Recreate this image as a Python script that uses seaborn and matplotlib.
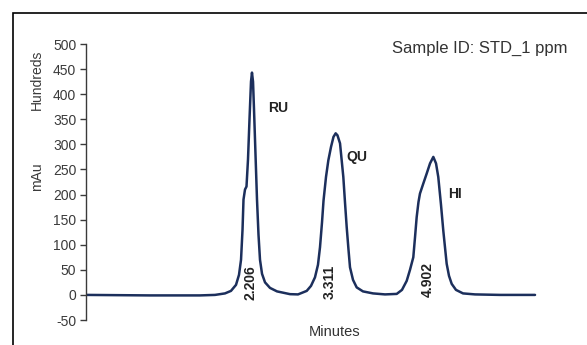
import matplotlib
matplotlib.use("Agg")
import matplotlib.pyplot as plt
import matplotlib.patches as mpatches
import seaborn as sns
import pandas as pd

# ---- data (minutes, mAu in hundreds) ----
minutes = [0.000, 0.853, 1.520, 1.720, 1.853, 1.933, 2.000, 2.040, 2.067, 2.087,
           2.100, 2.120, 2.140, 2.160, 2.180, 2.200, 2.213, 2.227, 2.240, 2.260,
           2.280, 2.300, 2.320, 2.347, 2.387, 2.453, 2.547, 2.720, 2.827, 2.943,
           3.000, 3.053, 3.093, 3.120, 3.147, 3.167, 3.200, 3.231, 3.267, 3.300,
           3.329, 3.353, 3.387, 3.431, 3.453, 3.476, 3.500, 3.520, 3.560, 3.609,
           3.693, 3.827, 3.987, 4.143, 4.213, 4.276, 4.320, 4.364, 4.387, 4.409,
           4.433, 4.453, 4.493, 4.543, 4.587, 4.631, 4.667, 4.697, 4.733, 4.764,
           4.809, 4.840, 4.876, 4.933, 5.027, 5.187, 5.520, 5.987]
signal = [0, -1, -1, 0, 3, 8, 20, 40, 70, 130,
          190, 210, 216, 270, 350, 425, 443, 425, 370, 280,
          190, 120, 70, 42, 25, 14, 7, 1.5, 1, 8,
          18, 35, 60, 95, 145, 188, 235, 268, 295, 315,
          322, 318, 302, 235, 185, 135, 90, 55, 30, 15,
          7, 3, 1, 2, 10, 28, 50, 75, 115, 155,
          185, 202, 220, 242, 262, 275, 262, 235, 180, 128,
          62, 38, 22, 10, 3, 1, 0, 0]

peak_names = ["RU", "QU", "HI"]
peak_name_x = [2.56, 3.613, 4.92]
peak_name_y = [372, 274, 202]
retention_times = ["2.206", "3.311", "4.902"]
rt_label_x = [2.187, 3.253, 4.56]
rt_label_y = [24, 26, 30]

y_ticks = [-50, 0, 50, 100, 150, 200, 250, 300, 350, 400, 450, 500]

df = pd.DataFrame({"Minutes": minutes, "mAu": signal})

sns.set_style("white")
plt.rcParams["font.family"] = ["Liberation Sans", "DejaVu Sans"]

fig = plt.figure(figsize=(5.87, 3.45), dpi=100)
ax = fig.add_axes([86/587, 1-320/345, (566-86)/587, (320-44)/345])

sns.lineplot(data=df, x="Minutes", y="mAu", ax=ax, color="#1c2f5c",
             linewidth=1.8, sort=False, estimator=None)

ax.set_xlim(0, 6.4)
ax.set_ylim(-50, 500)
ax.set_yticks(y_ticks)
ax.set_yticklabels([str(t) for t in y_ticks], fontsize=10, color="#3a3a3a")
ax.set_xticks([])
ax.set_xlabel("")
ax.set_ylabel("")
for s in ["top", "right", "bottom"]:
    ax.spines[s].set_visible(False)
ax.spines["left"].set_color("#3a3a3a")
ax.spines["left"].set_linewidth(1.0)
ax.tick_params(axis="y", direction="out", length=4, width=1.0, color="#3a3a3a", pad=3,
               left=True)
ax.patch.set_alpha(0)

for name, x, y in zip(peak_names, peak_name_x, peak_name_y):
    ax.text(x, y, name, fontsize=10, fontweight="bold", color="#222222",
            ha="center", va="center")
for rt, x, y in zip(retention_times, rt_label_x, rt_label_y):
    ax.text(x, y, rt, fontsize=10, fontweight="bold", color="#222222",
            ha="center", va="center", rotation=90)

fig.text(567/587, 1-48/345, "Sample ID: STD_1 ppm", fontsize=12, color="#333333",
         ha="right", va="center")
fig.text(335/587, 1-332/345, "Minutes", fontsize=10.5, color="#333333",
         ha="center", va="center")
fig.text(37/587, 1-80/345, "Hundreds", fontsize=10, color="#3a3a3a",
         ha="center", va="center", rotation=90)
fig.text(37/587, 1-177/345, "mAu", fontsize=10, color="#3a3a3a",
         ha="center", va="center", rotation=90)

border = mpatches.Rectangle((13/587, -0.2), 1.2, (1-13/345) + 0.2,
                            transform=fig.transFigure, fill=False,
                            edgecolor="black", linewidth=1.2)
fig.patches.append(border)

fig.savefig("out.png", dpi=100)
